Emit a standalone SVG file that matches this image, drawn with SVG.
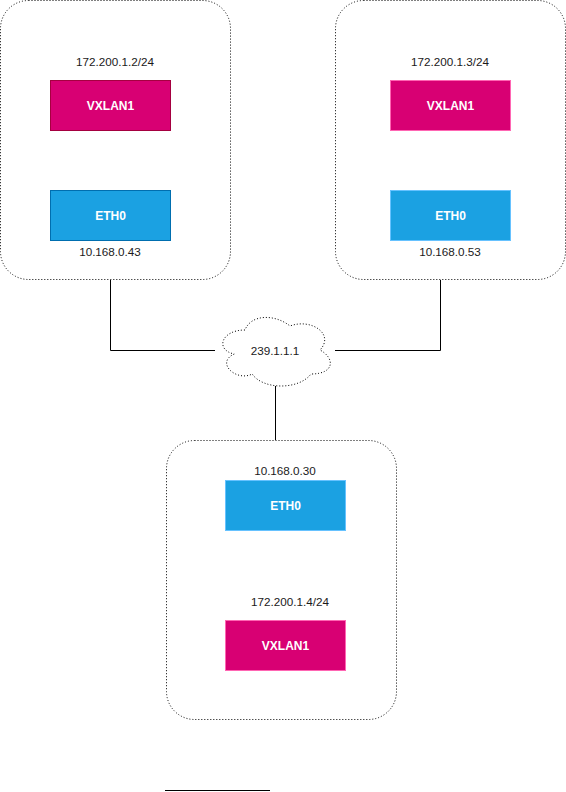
<svg xmlns="http://www.w3.org/2000/svg" width="566" height="792" viewBox="0 0 566 792">
<style>
.host{fill:#fff;stroke:#000;stroke-width:1;stroke-dasharray:1 2}
.vx{fill:#d80073}
.eth{fill:#1ba1e2}
.lbl{font-family:"Liberation Sans",Arial,sans-serif;font-size:11.7px;fill:#1a1a1a;text-anchor:middle}
.in{font-family:"Liberation Sans",Arial,sans-serif;font-size:12px;font-weight:bold;fill:#fff;text-anchor:middle}
.conn{fill:none;stroke:#000;stroke-width:1}
</style>
<rect width="566" height="792" fill="#fff"/>
<g id="host1">
<rect class="host" x="0.5" y="0.5" width="230" height="279" rx="28"/>
<text class="lbl" x="115" y="65.5">172.200.1.2/24</text>
<rect class="vx" x="50.5" y="80.5" width="120" height="50" stroke="#a50040"/>
<text class="in" x="110.5" y="110">VXLAN1</text>
<rect class="eth" x="50.5" y="190.5" width="120" height="50" stroke="#006eaf"/>
<text class="in" x="110.5" y="220">ETH0</text>
<text class="lbl" x="110" y="255.5">10.168.0.43</text>
</g>
<g id="host2">
<rect class="host" x="335.5" y="0.5" width="230" height="279" rx="28"/>
<text class="lbl" x="450" y="65.5">172.200.1.3/24</text>
<rect class="vx" x="390.5" y="80.5" width="120" height="50" stroke="#ff66b3"/>
<text class="in" x="450.5" y="110">VXLAN1</text>
<rect class="eth" x="390.5" y="190.5" width="120" height="50" stroke="#66c2ff"/>
<text class="in" x="450.5" y="220">ETH0</text>
<text class="lbl" x="450" y="255.5">10.168.0.53</text>
</g>
<g id="host3">
<rect class="host" x="166.5" y="440.5" width="230" height="279" rx="28"/>
<text class="lbl" x="285" y="474.5">10.168.0.30</text>
<rect class="eth" x="225.5" y="480.5" width="120" height="50" stroke="#66c2ff"/>
<text class="in" x="285.5" y="510">ETH0</text>
<text class="lbl" x="290" y="605.5">172.200.1.4/24</text>
<rect class="vx" x="225.5" y="620.5" width="120" height="50" stroke="#ff66b3"/>
<text class="in" x="285.5" y="650">VXLAN1</text>
</g>
<g id="cloud">
<path class="host" d="M245 330 C221 330 215 350 234.2 354 C215 362.8 236.6 382 252.2 374 C263 390 299 390 311 374 C335 374 335 358 320 350 C335 334 311 318 290 326 C275 314 251 314 245 330 Z"/>
<text class="lbl" x="275" y="354.5">239.1.1.1</text>
</g>
<g id="connectors">
<polyline class="conn" points="110.5,280 110.5,350.5 215,350.5"/>
<polyline class="conn" points="335,350.5 440.5,350.5 440.5,280"/>
<line class="conn" x1="275.5" y1="386" x2="275.5" y2="440"/>
<line class="conn" x1="165" y1="790.5" x2="270" y2="790.5"/>
</g>
</svg>
